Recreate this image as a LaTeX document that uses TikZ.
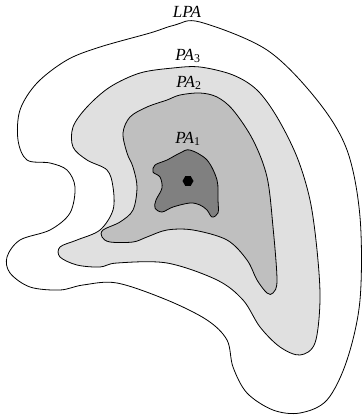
\documentclass[tikz,border=0pt]{standalone}
\usepackage{fontspec}
\setmainfont{Liberation Serif}
\usetikzlibrary{shapes.geometric}

\begin{document}
\begin{tikzpicture}[x=1pt,y=-1pt,line width=.8pt,
 zone/.style={draw=black,line join=round},
 lbl/.style={font=\fontsize{17}{19}\selectfont\itshape,inner sep=0pt}]
\useasboundingbox (0,0) rectangle (362,420);
% LPA
\draw[zone,fill=white] plot[smooth cycle,tension=.55] coordinates {
 (200,22) (267,50) (317,100) (347,150) (360,217) (360,300) (347,360)
 (327,400) (300,413) (273,410) (247,393) (233,367) (227,340) (207,320)
 (167,300) (117,283) (83,285) (60,290) (30,287) (10,273) (7,257) (20,240)
 (50,230) (70,213) (75,187) (67,170) (50,163) (27,160) (18,140) (20,110)
 (37,83) (67,60) (100,47) (150,33) (175,25)};
% PA3
\draw[zone,fill=black!12] plot[smooth cycle,tension=.55] coordinates {
 (200,67) (233,75) (257,90) (277,117) (297,157) (310,200) (317,250)
 (320,300) (315,343) (300,355) (280,347) (260,327) (243,300) (217,280)
 (167,263) (117,263) (100,267) (77,265) (60,257) (60,247) (77,240)
 (100,230) (113,210) (113,187) (107,170) (87,160) (73,147) (73,127)
 (87,107) (110,87) (140,73) (173,68)};
% PA2
\draw[zone,fill=black!25] plot[smooth cycle,tension=.55] coordinates {
 (200,93) (217,97) (233,110) (253,140) (267,177) (273,227) (277,280)
 (273,293) (267,293) (257,280) (247,260) (227,240) (193,230) (167,230)
 (147,237) (133,242) (110,242) (102,237) (103,230) (120,222) (133,210)
 (137,187) (133,167) (127,153) (123,133) (130,117) (147,107) (167,100)
 (180,95)};
% PA1
\draw[zone,fill=black!50] plot[smooth cycle,tension=.55] coordinates {
 (190,150) (207,160) (217,180) (218,200) (218,213) (212,217) (207,210)
 (200,205) (190,203) (173,207) (162,212) (155,208) (156,200) (162,188)
 (160,177) (153,172) (155,165) (167,160) (180,153)};
\node[regular polygon,regular polygon sides=6,fill=black,minimum size=11pt,inner sep=0pt] (src) at (188,181) {};
\node[lbl] (lpa) at (187,12) {LPA};
\node[lbl] (pa3) at (188,56) {PA\textsubscript{\upshape 3}};
\node[lbl] (pa2) at (189,83) {PA\textsubscript{\upshape 2}};
\node[lbl] (pa1) at (188,139) {PA\textsubscript{\upshape 1}};
\end{tikzpicture}
\end{document}
